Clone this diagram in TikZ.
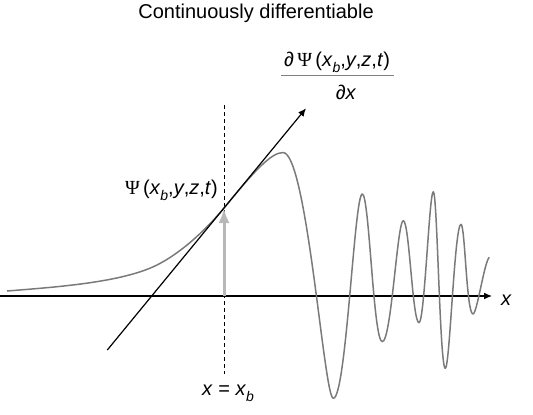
\documentclass[tikz,border=0pt]{standalone}
\usepackage{fontspec}
\setmainfont{Liberation Sans}
\newfontfamily\psifont{Liberation Serif}
\usetikzlibrary{arrows.meta}
% 下标 b：缩小并下移
\newcommand\lowb[1]{\raisebox{-0.3em}{\fontsize{14}{14}\selectfont\itshape #1}}
\begin{document}
\begin{tikzpicture}[x=1pt, y=-1pt, >={Latex[length=8pt,width=7pt]},
    font=\fontsize{20}{24}\selectfont,
    wave/.style={line width=1.5pt, black!52, line join=round},
    tanline/.style={line width=1.2pt, ->},
    guide/.style={line width=0.8pt, dash pattern=on 4pt off 3pt},
    valarrow/.style={line width=3pt, black!28, -{Latex[length=15pt,width=11pt]}},
    lbl/.style={inner sep=0pt}]
  \useasboundingbox (0,0) rectangle (533,415);
  % 标题
  \node[lbl, anchor=base] (title) at (256,19) {Continuously differentiable};
  % 坐标轴与 x = x_b 虚线
  \coordinate (ax0) at (0,296);
  \coordinate (ax1) at (492,296);
  \draw[line width=1.2pt, ->] (ax0) -- (ax1);
  \node[lbl, anchor=base west] (xlab) at (501,305) {\textit{x}};
  \coordinate (dtop) at (224,105);
  \coordinate (dbot) at (224,374);
  \draw[guide] (dtop) -- (dbot);
  \node[lbl, anchor=base] (xb) at (228,395) {\textit{x} = \textit{x}\lowb{b}};
  % 波函数 Psi
  \draw[wave] (7,291) .. controls (57,287) and (122,282.5) .. (157,265)
    .. controls (179,254) and (204,232.3) .. (224,208)
    .. controls (254,171.5) and (271,152.5) .. (283,152.5)
    .. controls (307,152.5) and (324,398.3) .. (333.3,398.3)
    .. controls (346.3,398.3) and (354.3,194) .. (362.3,194)
    .. controls (369.3,194) and (373.3,341.7) .. (382.3,341.7)
    .. controls (391.3,341.7) and (397.3,220.7) .. (403.3,220.7)
    .. controls (409.3,220.7) and (412.5,322.7) .. (419,322.7)
    .. controls (424.5,322.7) and (429.3,191.7) .. (433.3,191.7)
    .. controls (437.3,191.7) and (439.8,368.3) .. (445.3,368.3)
    .. controls (449.8,368.3) and (454.5,224.3) .. (461,224.3)
    .. controls (465,224.3) and (466.5,314) .. (473,314)
    .. controls (477,314) and (484.3,261.5) .. (489.3,257.3);
  % 切线与函数值箭头
  \coordinate (tanA) at (107.3,350);
  \coordinate (tanB) at (306,108.3);
  \coordinate (foot) at (224,296);
  \coordinate (tpt) at (224,208);
  \draw[valarrow] (foot) -- (tpt);
  \draw[tanline] (tanA) -- (tanB);
  \node[lbl, anchor=base east] (psi) at (218,194)
    {{\psifont Ψ}\,(\textit{x}\lowb{b},\textit{y},\textit{z},\textit{t})};
  % 偏导数
  \node[lbl, anchor=base] (dnum) at (337,66)
    {∂\,{\psifont Ψ}\,(\textit{x}\lowb{b},\textit{y},\textit{z},\textit{t})};
  \draw[line width=1pt, black!50] (281,75) -- (394,75);
  \node[lbl, anchor=base] (dden) at (346,99) {∂\textit{x}};
\end{tikzpicture}
\end{document}
